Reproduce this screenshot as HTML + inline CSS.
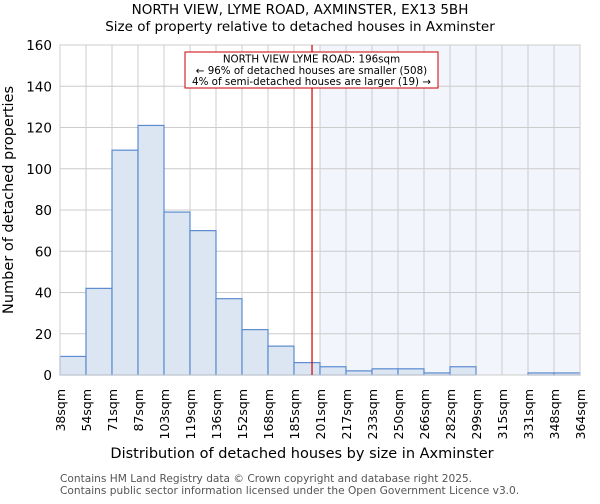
<!DOCTYPE html>
<html><head><meta charset="utf-8"><style>
body{margin:0;background:#fff;font-family:"DejaVu Sans","Liberation Sans",sans-serif}
svg text{font-family:"DejaVu Sans","Liberation Sans",sans-serif}
</style></head><body>
<svg id="chart" width="600" height="500" xmlns="http://www.w3.org/2000/svg">
<text x="300" y="14" text-anchor="middle" font-size="13.5">NORTH VIEW, LYME ROAD, AXMINSTER, EX13 5BH</text>
<text x="300" y="31" text-anchor="middle" font-size="13.5">Size of property relative to detached houses in Axminster</text>
<g id="plot"></g>
<text x="13" y="200" transform="rotate(-90 13 200)" text-anchor="middle" font-size="14.5">Number of detached properties</text>
<text x="302" y="458" text-anchor="middle" font-size="14.5">Distribution of detached houses by size in Axminster</text>
<text x="60" y="482" font-size="10.6" fill="#555">Contains HM Land Registry data © Crown copyright and database right 2025.</text>
<text x="60" y="494" font-size="10.6" fill="#555">Contains public sector information licensed under the Open Government Licence v3.0.</text>
</svg>
<script>
const categories=["38sqm","54sqm","71sqm","87sqm","103sqm","119sqm","136sqm","152sqm","168sqm","185sqm","201sqm","217sqm","233sqm","250sqm","266sqm","282sqm","299sqm","315sqm","331sqm","348sqm","364sqm"];
const counts=[9,42,109,121,79,70,37,22,14,6,4,2,3,3,1,4,0,0,1,1];
const yTicks=[0,20,40,60,80,100,120,140,160];
const binEdges=[38,54.3,70.6,86.9,103.2,119.5,135.8,152.1,168.4,184.7,201,217.3,233.6,249.9,266.2,282.5,298.8,315.1,331.4,347.7,364];
const propertySize=196;
const highlightStartBin=10;

const NS="http://www.w3.org/2000/svg";
const L=60,R=580,T=45,B=375,yMax=160;
const n=counts.length,bw=(R-L)/n;
const xi=i=>L+i*bw;
const y=v=>B-(v/yMax)*(B-T);
const xv=v=>{for(let i=0;i<binEdges.length-1;i++){if(v<=binEdges[i+1])return xi(i)+(v-binEdges[i])/(binEdges[i+1]-binEdges[i])*bw;}return R;};
const g=document.getElementById('plot');
function mk(t,a){const e=document.createElementNS(NS,t);for(const k in a)e.setAttribute(k,a[k]);g.appendChild(e);return e;}

let e=mk('rect',{x:xi(highlightStartBin),y:T,width:R-xi(highlightStartBin),height:B-T,fill:'#f2f5fc'});


yTicks.forEach(t=>{const l=mk('line',{x1:L,x2:R,y1:y(t),y2:y(t),stroke:'#cccccc','stroke-width':1});


const tx=mk('text',{x:L-8,y:y(t)+5,'text-anchor':'end','font-size':13.5});tx.textContent=t;

});
categories.forEach((c,i)=>{const l=mk('line',{x1:xi(i),x2:xi(i),y1:T,y2:B,stroke:'#cccccc','stroke-width':1});


const tx=mk('text',{x:xi(i)+5,y:B+14,'text-anchor':'end','font-size':12.5,transform:`rotate(-90 ${xi(i)+5} ${B+14})`});tx.textContent=c;

});
counts.forEach((v,i)=>{const r=mk('rect',{x:xi(i),y:y(v),width:bw,height:B-y(v),fill:'#dce6f3',stroke:'#5b8bd0','stroke-width':1.2});

});
e=mk('rect',{x:L,y:T,width:R-L,height:B-T,fill:'none',stroke:'#cccccc'});


const px=xv(propertySize);
e=mk('line',{x1:px,x2:px,y1:T,y2:B,stroke:'#cc0000','stroke-width':1.2});


e=mk('rect',{x:185,y:52,width:253,height:36,fill:'#fff',stroke:'#cc0000','stroke-width':1});


["NORTH VIEW LYME ROAD: 196sqm","← 96% of detached houses are smaller (508)","4% of semi-detached houses are larger (19) →"].forEach((s,k)=>{
const t=mk('text',{x:311.5,y:62.5+k*11.3,'text-anchor':'middle','font-size':10.3});t.textContent=s;

});
</script>
</body></html>
